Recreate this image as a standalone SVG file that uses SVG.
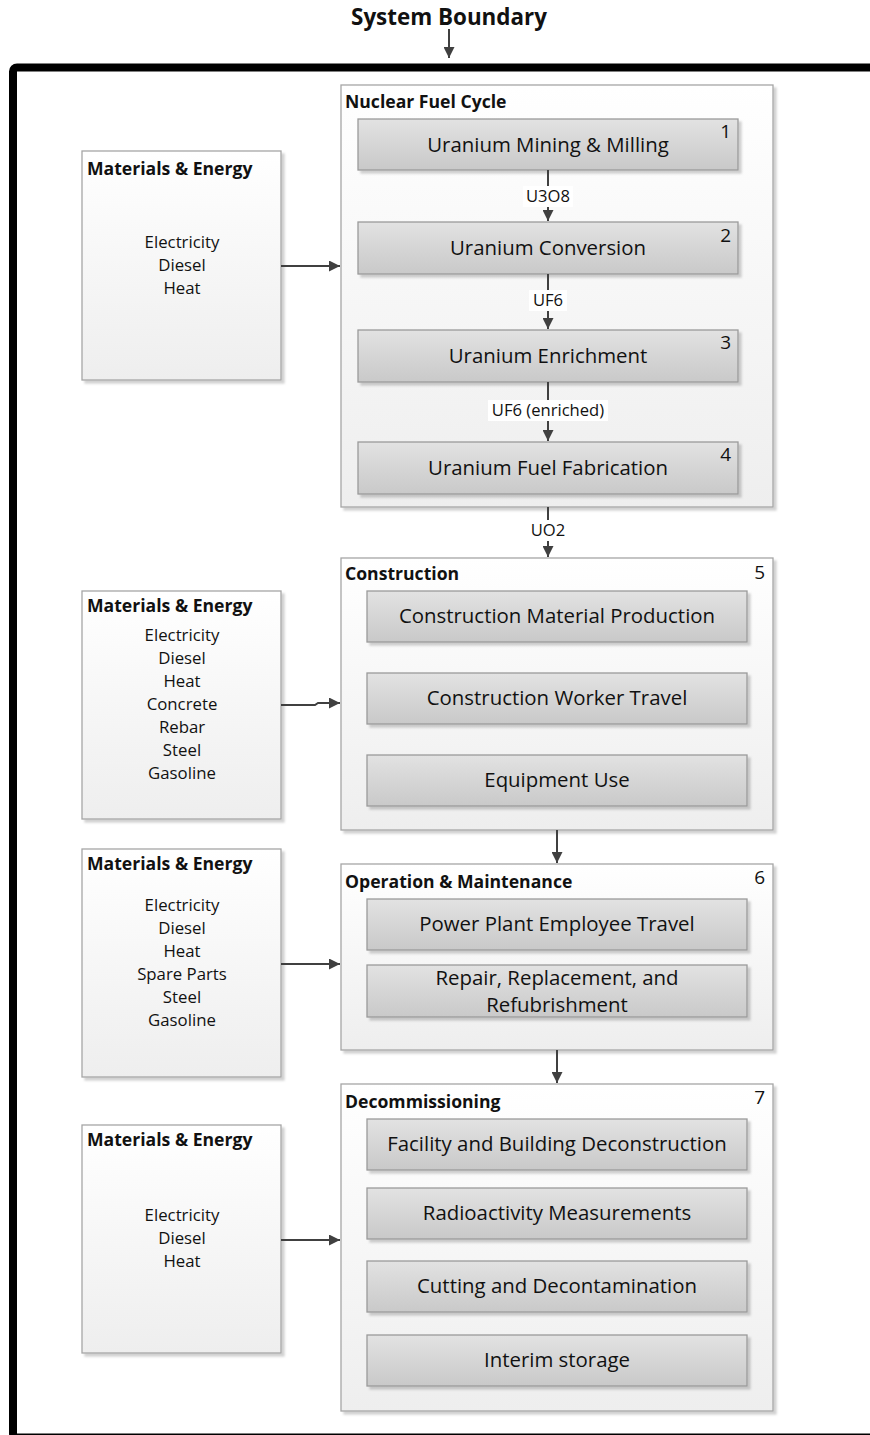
<svg xmlns="http://www.w3.org/2000/svg" width="870" height="1435" viewBox="0 0 870 1435">
<defs>
<linearGradient id="gBox" x1="0" y1="0" x2="0" y2="1"><stop offset="0" stop-color="#e2e2e2"/><stop offset="1" stop-color="#c9c9c9"/></linearGradient>
<linearGradient id="gCont" x1="0" y1="0" x2="0" y2="1"><stop offset="0" stop-color="#ffffff"/><stop offset="1" stop-color="#eeeeee"/></linearGradient>
<filter id="sh" x="-5%" y="-5%" width="115%" height="115%"><feDropShadow dx="3" dy="3" stdDeviation="1.2" flood-color="#000" flood-opacity="0.18"/></filter>
<marker id="arr" viewBox="0 0 10 10" refX="10" refY="5" markerWidth="5.5" markerHeight="5.5" orient="auto" markerUnits="strokeWidth"><path d="M0,0 L10,5 L0,10 z" fill="#404040"/></marker>
<style>
.cont{fill:url(#gCont);stroke:#a6a6a6;stroke-width:1.3;filter:url(#sh)}
.box{fill:url(#gBox);stroke:#9a9a9a;stroke-width:1.3;filter:url(#sh)}
.t{font-family:"Open Sans","Liberation Sans",sans-serif;fill:#111}
.bt{font-size:20.4px;text-anchor:middle}
.hd{font-size:17.6px;font-weight:bold}
.num{font-size:19px;text-anchor:end}
.it{font-size:16.8px;text-anchor:middle}
.lb{font-size:16.6px;text-anchor:middle}
.ln{stroke:#404040;stroke-width:2;fill:none;marker-end:url(#arr)}
.lbg{fill:#fff}
</style>
</defs>
<rect width="870" height="1435" fill="#fff"/>
<g id="boundary">
<rect x="13" y="67.5" width="880" height="1370" rx="4" fill="none" stroke="#000" stroke-width="8"/>
<text class="t" x="449" y="25" font-size="22.4" font-weight="bold" text-anchor="middle">System Boundary</text>
</g>
<g id="nfc">
<rect class="cont" x="341" y="85" width="432" height="422"/>
<text class="t hd" x="345" y="108">Nuclear Fuel Cycle</text>
</g>
<g id="n1"><rect class="box" x="358" y="119" width="380" height="51"/><text class="t bt" x="548" y="152">Uranium Mining &amp; Milling</text><text class="t num" x="731" y="138">1</text></g>
<g id="n2"><rect class="box" x="358" y="222" width="380" height="52"/><text class="t bt" x="548" y="255">Uranium Conversion</text><text class="t num" x="731" y="242">2</text></g>
<g id="n3"><rect class="box" x="358" y="330" width="380" height="52"/><text class="t bt" x="548" y="363">Uranium Enrichment</text><text class="t num" x="731" y="349">3</text></g>
<g id="n4"><rect class="box" x="358" y="442" width="380" height="52"/><text class="t bt" x="548" y="475">Uranium Fuel Fabrication</text><text class="t num" x="731" y="461">4</text></g>
<g id="construction">
<rect class="cont" x="341" y="558" width="432" height="272"/>
<text class="t hd" x="345" y="580">Construction</text><text class="t num" x="765" y="579">5</text>
<rect class="box" x="367" y="591" width="380" height="51"/><text class="t bt" x="557" y="623">Construction Material Production</text>
<rect class="box" x="367" y="673" width="380" height="51"/><text class="t bt" x="557" y="705">Construction Worker Travel</text>
<rect class="box" x="367" y="755" width="380" height="51"/><text class="t bt" x="557" y="787">Equipment Use</text>
</g>
<g id="om">
<rect class="cont" x="341" y="864" width="432" height="186"/>
<text class="t hd" x="345" y="888">Operation &amp; Maintenance</text><text class="t num" x="765" y="884">6</text>
<rect class="box" x="367" y="899" width="380" height="51"/><text class="t bt" x="557" y="931">Power Plant Employee Travel</text>
<rect class="box" x="367" y="965" width="380" height="52"/><text class="t bt" x="557" y="985">Repair, Replacement, and</text><text class="t bt" x="557" y="1012">Refubrishment</text>
</g>
<g id="decom">
<rect class="cont" x="341" y="1084" width="432" height="327"/>
<text class="t hd" x="345" y="1108">Decommissioning</text><text class="t num" x="765" y="1104">7</text>
<rect class="box" x="367" y="1119" width="380" height="51"/><text class="t bt" x="557" y="1151">Facility and Building Deconstruction</text>
<rect class="box" x="367" y="1188" width="380" height="51"/><text class="t bt" x="557" y="1220">Radioactivity Measurements</text>
<rect class="box" x="367" y="1261" width="380" height="51"/><text class="t bt" x="557" y="1293">Cutting and Decontamination</text>
<rect class="box" x="367" y="1335" width="380" height="51"/><text class="t bt" x="557" y="1367">Interim storage</text>
</g>
<g id="me1">
<rect class="cont" x="82" y="151" width="199" height="229"/>
<text class="t hd" x="87" y="175">Materials &amp; Energy</text>
<text class="t it" x="182" y="248">Electricity</text><text class="t it" x="182" y="271">Diesel</text><text class="t it" x="182" y="294">Heat</text>
</g>
<g id="me2">
<rect class="cont" x="82" y="591" width="199" height="228"/>
<text class="t hd" x="87" y="612">Materials &amp; Energy</text>
<text class="t it" x="182" y="641">Electricity</text><text class="t it" x="182" y="664">Diesel</text><text class="t it" x="182" y="687">Heat</text><text class="t it" x="182" y="710">Concrete</text><text class="t it" x="182" y="733">Rebar</text><text class="t it" x="182" y="756">Steel</text><text class="t it" x="182" y="779">Gasoline</text>
</g>
<g id="me3">
<rect class="cont" x="82" y="849" width="199" height="228"/>
<text class="t hd" x="87" y="870">Materials &amp; Energy</text>
<text class="t it" x="182" y="911">Electricity</text><text class="t it" x="182" y="934">Diesel</text><text class="t it" x="182" y="957">Heat</text><text class="t it" x="182" y="980">Spare Parts</text><text class="t it" x="182" y="1003">Steel</text><text class="t it" x="182" y="1026">Gasoline</text>
</g>
<g id="me4">
<rect class="cont" x="82" y="1125" width="199" height="228"/>
<text class="t hd" x="87" y="1146">Materials &amp; Energy</text>
<text class="t it" x="182" y="1221">Electricity</text><text class="t it" x="182" y="1244">Diesel</text><text class="t it" x="182" y="1267">Heat</text>
</g>
<g id="connectors">
<path class="ln" d="M449,29 V58"/>
<path class="ln" d="M548,170 V221"/>
<path class="ln" d="M548,274 V329"/>
<path class="ln" d="M548,382 V441"/>
<path class="ln" d="M548,507 V557"/>
<path class="ln" d="M557,830 V863"/>
<path class="ln" d="M557,1050 V1083"/>
<path class="ln" d="M281,266 H340"/>
<path class="ln" d="M281,705 H315 L318,703 H340"/>
<path class="ln" d="M281,964 H340"/>
<path class="ln" d="M281,1240 H340"/>
<rect class="lbg" x="523" y="186" width="50" height="21"/><text class="t lb" x="548" y="202">U3O8</text>
<rect class="lbg" x="529" y="290" width="38" height="21"/><text class="t lb" x="548" y="306">UF6</text>
<rect class="lbg" x="488" y="400" width="120" height="21"/><text class="t lb" x="548" y="416">UF6 (enriched)</text>
<rect class="lbg" x="528" y="520" width="40" height="21"/><text class="t lb" x="548" y="536">UO2</text>
</g>
</svg>
